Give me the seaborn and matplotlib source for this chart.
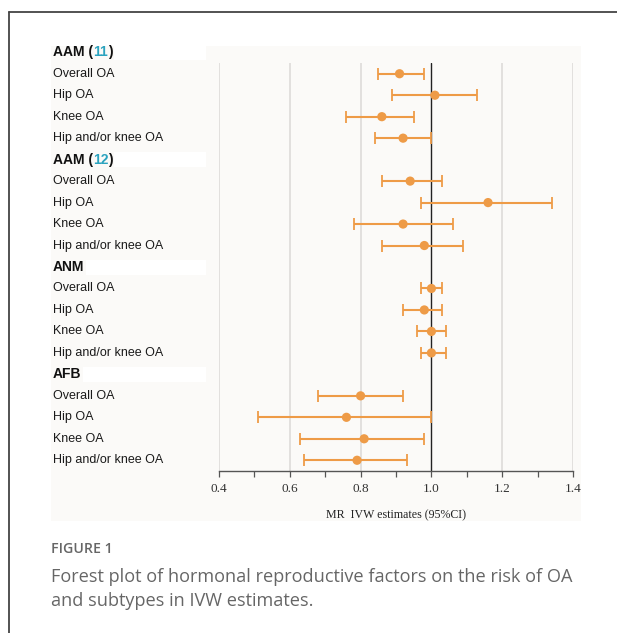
import pandas as pd
import matplotlib.pyplot as plt
import matplotlib.transforms as mtransforms
import seaborn as sns
from matplotlib.patches import Rectangle
from matplotlib.lines import Line2D

# Data
groups = ["AAM", "AAM", "ANM", "AFB"]
group_refs = ["11", "12", "", ""]
outcomes = ["Overall OA", "Hip OA", "Knee OA", "Hip and/or knee OA"]
estimate = [0.91, 1.01, 0.86, 0.92,
            0.94, 1.16, 0.92, 0.98,
            1.00, 0.98, 1.00, 1.00,
            0.80, 0.76, 0.81, 0.79]
lower = [0.85, 0.89, 0.76, 0.84,
         0.86, 0.97, 0.78, 0.86,
         0.97, 0.92, 0.96, 0.97,
         0.68, 0.51, 0.63, 0.64]
upper = [0.98, 1.13, 0.95, 1.00,
         1.03, 1.34, 1.06, 1.09,
         1.03, 1.03, 1.04, 1.04,
         0.92, 1.00, 0.98, 0.93]
xticks = [0.4, 0.6, 0.8, 1.0, 1.2, 1.4]

# Build table, one row per estimate; header rows sit in between
rows = []
for g in range(len(groups)):
    for o in range(len(outcomes)):
        k = g * len(outcomes) + o
        rows.append({"group": g, "outcome": outcomes[o], "row": g * 5 + o + 1,
                     "est": estimate[k], "lo": lower[k], "hi": upper[k]})
df = pd.DataFrame(rows)

sns.set_style("white")
plt.rcParams["font.family"] = ["Liberation Sans", "DejaVu Sans"]

W, H = 617, 633
fig = plt.figure(figsize=(W / 100, H / 100), dpi=100)
fig.patch.set_facecolor("white")


def fx(px):
    return px / W


def fy(py):
    return 1 - py / H


orange = "#ee9b47"
light_bg = "#fbfaf8"

# panel background and outer frame
fig.patches.append(Rectangle((fx(51), fy(521)), fx(581) - fx(51), fy(46) - fy(521),
                             transform=fig.transFigure, facecolor=light_bg,
                             edgecolor="none", zorder=-2))
fig.lines.append(Line2D([fx(9), fx(9)], [fy(12), fy(640)], transform=fig.transFigure,
                        color="#444444", lw=1.3))
fig.lines.append(Line2D([fx(9), fx(620)], [fy(12), fy(12)], transform=fig.transFigure,
                        color="#444444", lw=1.3))

ax = fig.add_axes([fx(219), fy(471), fx(573) - fx(219), fy(63) - fy(471)])
ax.set_facecolor("none")

# grid lines
for t in xticks:
    if t == 1.0:
        ax.axvline(t, color="#222222", lw=1.0, zorder=1)
    else:
        ax.axvline(t, color="#e0dedc", lw=1.3, zorder=1)

ax.errorbar(df["est"], df["row"], xerr=[df["est"] - df["lo"], df["hi"] - df["est"]],
            fmt="none", ecolor=orange, elinewidth=1.5, capsize=4.5, capthick=1.3, zorder=2)
sns.scatterplot(data=df, x="est", y="row", ax=ax, color=orange, s=44,
                edgecolor="none", zorder=3, legend=False)

ax.set_xlim(0.4, 1.4)
ax.set_ylim(19.5, 0.5)
ax.set_yticks([])
ax.set_ylabel("")
for s in ["top", "right", "left"]:
    ax.spines[s].set_visible(False)
ax.spines["bottom"].set_color("#555555")
ax.spines["bottom"].set_linewidth(1.0)
ax.set_xticks(xticks)
ax.set_xticks([0.5, 0.7, 0.9, 1.1, 1.3], minor=True)
ax.set_xticklabels([f"{t:.1f}" for t in xticks], fontfamily="Liberation Serif",
                   fontsize=9.5, color="#333333")
ax.tick_params(axis="x", which="both", direction="out", length=4, width=0.9,
               color="#555555", pad=5, bottom=True)
ax.set_xlabel("MR  IVW estimates (95%CI)", fontfamily="Liberation Serif",
              fontsize=8.6, color="#222222", labelpad=10)

# row labels on the left
lab_x = fx(53)
blend = mtransforms.blended_transform_factory(fig.transFigure, ax.transData)
for _, r in df.iterrows():
    ax.text(lab_x, r["row"], r["outcome"], transform=blend, fontsize=9,
            color="#1a1a1a", va="center", ha="left", clip_on=False)

header_texts = []
for g in range(len(groups)):
    yrow = g * 5
    if group_refs[g]:
        t1 = ax.text(lab_x, yrow, groups[g] + " (", transform=blend, fontsize=10,
                     fontweight="bold", color="#111111", va="center", ha="left",
                     clip_on=False)
        t2 = ax.annotate(group_refs[g], xy=(1, 0), xycoords=t1, va="bottom", ha="left",
                         fontsize=10, fontweight="bold", color="#2ba3bf")
        t3 = ax.annotate(")", xy=(1, 0), xycoords=t2, va="bottom", ha="left",
                         fontsize=10, fontweight="bold", color="#111111")
        header_texts.append((yrow, t3))
    else:
        t1 = ax.text(lab_x, yrow, groups[g], transform=blend, fontsize=10,
                     fontweight="bold", color="#111111", va="center", ha="left",
                     clip_on=False)
        header_texts.append((yrow, t1))

# white strip to the right of each header, as in the source layout
fig.canvas.draw()
renderer = fig.canvas.get_renderer()
for yrow, t in header_texts:
    bb = t.get_window_extent(renderer)
    ymid = ax.transData.transform((0.5, yrow))[1]
    fig.patches.append(Rectangle((bb.x1 / W + 0.002, (ymid - 7.5) / H),
                                 fx(206) - bb.x1 / W - 0.002, 15 / H,
                                 transform=fig.transFigure, facecolor="white",
                                 edgecolor="none", zorder=-1))

# caption
fig.text(fx(51), fy(549), "FIGURE 1", fontfamily="Open Sans", fontsize=10.2,
         fontweight="semibold", color="#666666", va="center", ha="left")
fig.text(fx(51), fy(577), "Forest plot of hormonal reproductive factors on the risk of OA",
         fontfamily="Open Sans", fontsize=13.1, color="#666666", va="center", ha="left")
fig.text(fx(51), fy(601), "and subtypes in IVW estimates.",
         fontfamily="Open Sans", fontsize=13.1, color="#666666", va="center", ha="left")

fig.savefig("out.png", dpi=100)
